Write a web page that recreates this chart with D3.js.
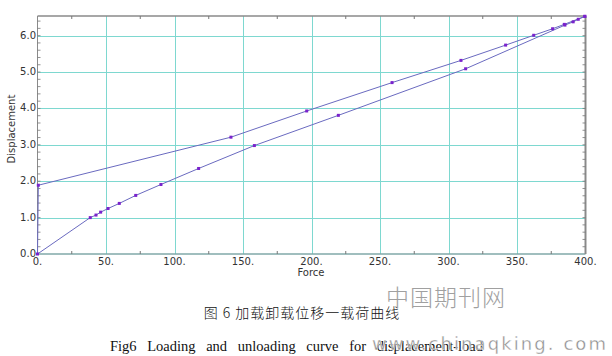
<!DOCTYPE html>
<html><head><meta charset="utf-8">
<script src="https://cdn.jsdelivr.net/npm/d3@7"></script>
<style>body{margin:0;background:#fff;}svg{display:block;}</style>
</head><body>
<script>
// Loading curve (lower)
const loadForce = [0, 38.5, 42.7, 46.1, 51.5, 59.7, 71.7, 90.1, 117.6, 158.3, 219.6, 312.5, 385, 391, 394.7, 399.5];
const loadDisp  = [0, 1.0, 1.07, 1.15, 1.25, 1.39, 1.61, 1.91, 2.35, 2.98, 3.81, 5.09, 6.29, 6.38, 6.45, 6.53];
// Unloading curve (upper)
const unloadForce = [399.5, 384.5, 376, 362.2, 341.7, 309.1, 258.8, 196.5, 141.2, 0.6, 0];
const unloadDisp  = [6.53, 6.31, 6.19, 6.01, 5.74, 5.32, 4.71, 3.93, 3.21, 1.89, 0];
const xTicks = [0, 50, 100, 150, 200, 250, 300, 350, 400];
const yTicks = [0, 1, 2, 3, 4, 5, 6];
const xLabel = "Force", yLabel = "Displacement";
const captionCN = "图 6  加载卸载位移一载荷曲线";
const captionEN = "Fig6  Loading and unloading curve for displacement-load";

const W = 612, H = 356;
const svg = d3.select("body").append("svg").attr("width", W).attr("height", H);
const L = 37.5, R = 585.5, T = 16, B = 254;
const x = d3.scaleLinear().domain([0, 400]).range([L, R]);
const y = d3.scaleLinear().domain([0, 6.54]).range([B, T]);

const grid = "#7ed8d0";
// grid
svg.append("g").selectAll("line").data(xTicks.slice(1, -1)).join("line")
  .attr("x1", d => Math.round(x(d)) + 0.5).attr("x2", d => Math.round(x(d)) + 0.5)
  .attr("y1", T).attr("y2", B).attr("stroke", grid).attr("stroke-width", 1);
svg.append("g").selectAll("line").data(yTicks.slice(1)).join("line")
  .attr("y1", d => Math.round(y(d)) + 0.5).attr("y2", d => Math.round(y(d)) + 0.5)
  .attr("x1", L).attr("x2", R).attr("stroke", grid).attr("stroke-width", 1);

// frame
svg.append("line").attr("x1", L).attr("x2", R).attr("y1", T).attr("y2", T).attr("stroke", "#8a8a8a").attr("stroke-width", 1.5);
svg.append("line").attr("x1", L).attr("x2", R).attr("y1", B).attr("y2", B).attr("stroke", "#80a8a8").attr("stroke-width", 1.5);
svg.append("line").attr("x1", L).attr("x2", L).attr("y1", T).attr("y2", B).attr("stroke", "#8a8a8a").attr("stroke-width", 1);
svg.append("line").attr("x1", R).attr("x2", R).attr("y1", T).attr("y2", B).attr("stroke", "#8a8a8a").attr("stroke-width", 2);

// minor ticks
const xMinor = d3.range(25, 400, 50);
const tk = "#777";
svg.append("g").selectAll("line").data(xMinor).join("line")
  .attr("x1", d => x(d)).attr("x2", d => x(d)).attr("y1", T).attr("y2", T + 3).attr("stroke", tk);
svg.append("g").selectAll("line").data(xMinor).join("line")
  .attr("x1", d => x(d)).attr("x2", d => x(d)).attr("y1", B).attr("y2", B - 3).attr("stroke", tk);
const yMinor = d3.range(0.2, 6.5, 0.2);
svg.append("g").selectAll("line").data(yMinor).join("line")
  .attr("y1", d => y(d)).attr("y2", d => y(d)).attr("x1", L).attr("x2", L + 3).attr("stroke", tk).attr("stroke-width", 0.8);
svg.append("g").selectAll("line").data(yMinor).join("line")
  .attr("y1", d => y(d)).attr("y2", d => y(d)).attr("x1", R).attr("x2", R - 3).attr("stroke", tk).attr("stroke-width", 0.8);

// tick labels
const font = "DejaVu Sans, Verdana, sans-serif";
svg.append("g").selectAll("text").data(xTicks).join("text")
  .attr("x", d => x(d)).attr("y", 265).attr("text-anchor", "middle")
  .attr("font-family", font).attr("font-size", 10).attr("fill", "#333")
  .text(d => d + ".");
svg.append("g").selectAll("text").data(yTicks).join("text")
  .attr("x", 36).attr("y", d => y(d) + 3).attr("text-anchor", "end")
  .attr("font-family", font).attr("font-size", 10).attr("fill", "#333")
  .text(d => d.toFixed(1));
svg.append("text").attr("x", 311).attr("y", 276).attr("text-anchor", "middle")
  .attr("font-family", font).attr("font-size", 10).attr("fill", "#333").text(xLabel);
svg.append("text").attr("transform", "translate(15,129) rotate(-90)").attr("text-anchor", "middle")
  .attr("font-family", font).attr("font-size", 10).attr("fill", "#333").text(yLabel);

// curves
const line = d3.line().x(d => x(d[0])).y(d => y(d[1]));
const loadPts = loadForce.map((f, i) => [f, loadDisp[i]]);
const unloadPts = unloadForce.map((f, i) => [f, unloadDisp[i]]);
[loadPts, unloadPts].forEach(pts => {
  svg.append("path").attr("d", line(pts)).attr("fill", "none").attr("stroke", "#6a6ac0").attr("stroke-width", 1);
});
const markPts = loadPts.concat(unloadPts.slice(0, -1));
svg.append("g").selectAll("rect").data(markPts).join("rect")
  .attr("x", d => x(d[0]) - 1.5).attr("y", d => y(d[1]) - 1.5).attr("width", 3).attr("height", 3)
  .attr("fill", "#7a22cc");

// captions
svg.append("text").attr("x", 302).attr("y", 318).attr("text-anchor", "middle")
  .attr("font-family", "Noto Sans CJK SC, sans-serif").attr("font-size", 14).attr("font-weight", 300)
  .attr("letter-spacing", 1).attr("fill", "#111")
  .text(captionCN);
svg.append("text").attr("x", 110).attr("y", 351)
  .attr("font-family", "Liberation Serif, Times New Roman, serif").attr("font-size", 14.5).attr("word-spacing", 7).attr("fill", "#111")
  .text(captionEN);

// watermark
svg.append("text").attr("x", 386).attr("y", 306)
  .attr("font-family", "Noto Sans CJK SC, sans-serif").attr("font-size", 23).attr("font-weight", 300).attr("fill", "#a0a0a0")
  .attr("letter-spacing", 1).text("中国期刊网");
svg.append("text").attr("x", 372).attr("y", 350)
  .attr("font-family", "DejaVu Sans, sans-serif").attr("font-size", 18).attr("fill", "#8a8a8a")
  .attr("textLength", 234).attr("lengthAdjust", "spacing")
  .attr("stroke", "#fff").attr("stroke-width", 0.4).text("www.chinaqking. com");
</script>
</body></html>
